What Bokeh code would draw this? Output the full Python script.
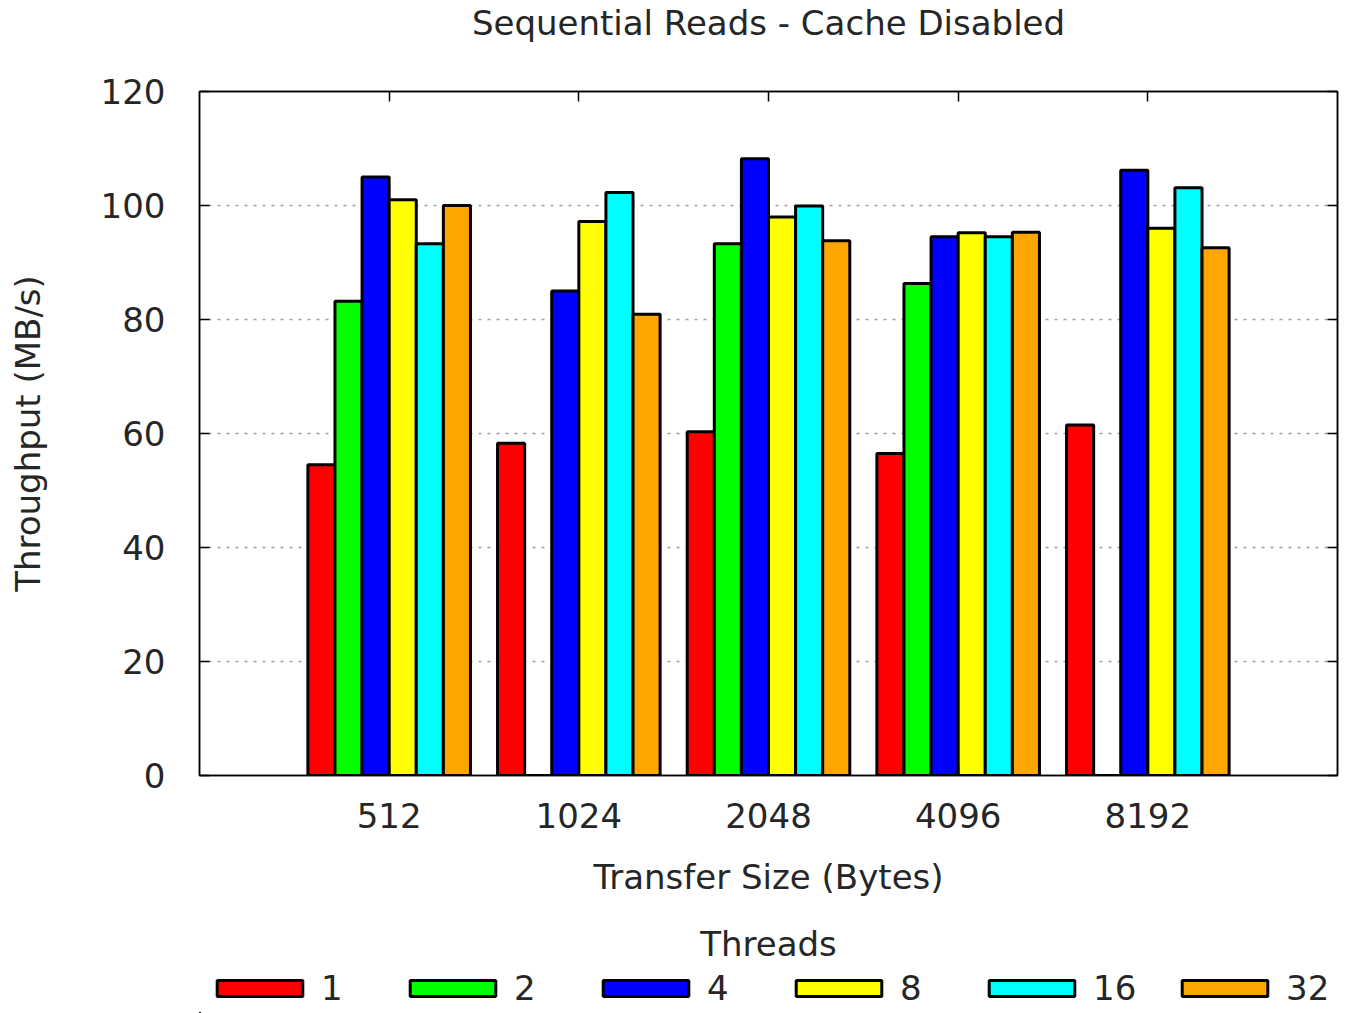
from bokeh.plotting import figure
from bokeh.layouts import column
from bokeh.models import (Range1d, FixedTicker, LinearAxis, Legend, LegendItem,
                          ColumnDataSource)
from bokeh.embed import file_html
from bokeh.resources import INLINE

# ---- data ----
sizes = ["512", "1024", "2048", "4096", "8192"]
threads = ["1", "2", "4", "8", "16", "32"]
t1 = [54.5, 58.3, 60.3, 56.5, 61.5]
t2 = [83.2, 0.0, 93.3, 86.3, 0.0]
t4 = [105.0, 85.0, 108.2, 94.5, 106.2]
t8 = [101.0, 97.2, 98.0, 95.2, 96.0]
t16 = [93.3, 102.3, 99.9, 94.5, 103.1]
t32 = [100.0, 80.9, 93.8, 95.3, 92.6]
series = [t1, t2, t4, t8, t16, t32]
colors = ["#ff0000", "#00ff00", "#0000ff", "#ffff00", "#00ffff", "#ffa500"]
yticks = [0, 20, 40, 60, 80, 100, 120]

FONT = "DejaVu Sans"
FS = "34px"
TXT = "#262626"
W = 1362

# ---- title strip ----
p0 = figure(width=W, height=50, output_backend="svg", toolbar_location=None,
            x_axis_type=None, y_axis_type=None,
            min_border_left=199, min_border_right=25, min_border_top=6, min_border_bottom=0)
p0.title.text = "Sequential Reads - Cache Disabled"
p0.title.align = "center"
p0.title.text_font = FONT
p0.title.text_font_size = FS
p0.title.text_font_style = "normal"
p0.title.text_color = TXT
p0.title.standoff = 0
p0.outline_line_color = None

# ---- main chart ----
p = figure(width=W, height=871, output_backend="svg", toolbar_location=None,
           title_location=None,
           x_range=Range1d(-1, 5), y_range=Range1d(0, 120),
           min_border_left=199, min_border_right=25, min_border_top=41, min_border_bottom=146)

n = len(series)
bw = 1.0 / (n + 1)
sources = []
for i, (vals, col) in enumerate(zip(series, colors)):
    xs = [g + (i - (n - 1) / 2) * bw for g in range(len(sizes))]
    src = ColumnDataSource(dict(x=xs, top=vals))
    sources.append(src)
    p.vbar(x="x", top="top", width=bw, bottom=0, source=src,
           fill_color=col, line_color="black", line_width=3)

p.xaxis.ticker = FixedTicker(ticks=list(range(len(sizes))))
p.xaxis.major_label_overrides = {i: s for i, s in enumerate(sizes)}
p.yaxis.ticker = FixedTicker(ticks=yticks)
for ax in (p.xaxis[0], p.yaxis[0]):
    ax.major_tick_in = 10
    ax.major_tick_out = 0
    ax.minor_tick_line_color = None
    ax.axis_line_color = "black"
    ax.axis_line_width = 1.5
    ax.major_tick_line_color = "black"
    ax.major_tick_line_width = 1.5
    ax.major_label_text_font = FONT
    ax.major_label_text_font_size = FS
    ax.major_label_text_color = TXT
    ax.axis_label_text_font = FONT
    ax.axis_label_text_font_size = FS
    ax.axis_label_text_font_style = "normal"
    ax.axis_label_text_color = TXT
p.xaxis.axis_label = "Transfer Size (Bytes)"
p.yaxis.axis_label = "Throughput (MB/s)"
p.xaxis.major_label_standoff = 27
p.xaxis.axis_label_standoff = 26
p.yaxis.major_label_standoff = 34
p.yaxis.axis_label_standoff = 50

top_ax = LinearAxis(ticker=FixedTicker(ticks=list(range(len(sizes)))))
right_ax = LinearAxis(ticker=FixedTicker(ticks=yticks))
for ax in (top_ax, right_ax):
    ax.major_tick_in = 10
    ax.major_tick_out = 0
    ax.minor_tick_line_color = None
    ax.major_label_text_alpha = 0
    ax.major_label_text_font_size = "8px"
    ax.major_label_standoff = 0
    ax.axis_line_color = "black"
    ax.axis_line_width = 1.5
    ax.major_tick_line_color = "black"
    ax.major_tick_line_width = 1.5
p.add_layout(top_ax, "above")
p.add_layout(right_ax, "right")

p.xgrid.grid_line_color = None
p.ygrid.ticker = FixedTicker(ticks=yticks[1:-1])
p.ygrid.grid_line_color = "#a0a0a0"
p.ygrid.grid_line_width = 1.5
p.ygrid.grid_line_dash = "3 6"
p.outline_line_color = "black"
p.outline_line_width = 1.5

# ---- legend strip (legend glyphs share the chart's data, kept out of view) ----
p2 = figure(width=W, height=92, output_backend="svg", toolbar_location=None,
            x_axis_type=None, y_axis_type=None,
            x_range=Range1d(100, 101), y_range=Range1d(1000, 1001),
            min_border_left=199, min_border_right=25, min_border_top=12, min_border_bottom=0)
p2.title.text = "Threads"
p2.title.align = "center"
p2.title.text_font = FONT
p2.title.text_font_size = FS
p2.title.text_font_style = "normal"
p2.title.text_color = TXT
p2.title.standoff = 0
p2.outline_line_color = None
items = []
for i, (src, col) in enumerate(zip(sources, colors)):
    r = p2.vbar(x="x", top="top", width=bw, bottom=0, source=src,
                fill_color=col, line_color="black", line_width=3)
    items.append(LegendItem(label=threads[i], renderers=[r]))
legend = Legend(items=items, orientation="horizontal", location="center",
                glyph_width=107, glyph_height=20, label_width=44, label_standoff=8,
                spacing=34, padding=0, margin=0,
                label_text_font=FONT, label_text_font_size=FS, label_text_color=TXT,
                border_line_alpha=0, background_fill_alpha=0)
p2.add_layout(legend, "center")

layout = column(p0, p, p2, spacing=0)
open("out.html", "w").write(file_html(layout, INLINE))
